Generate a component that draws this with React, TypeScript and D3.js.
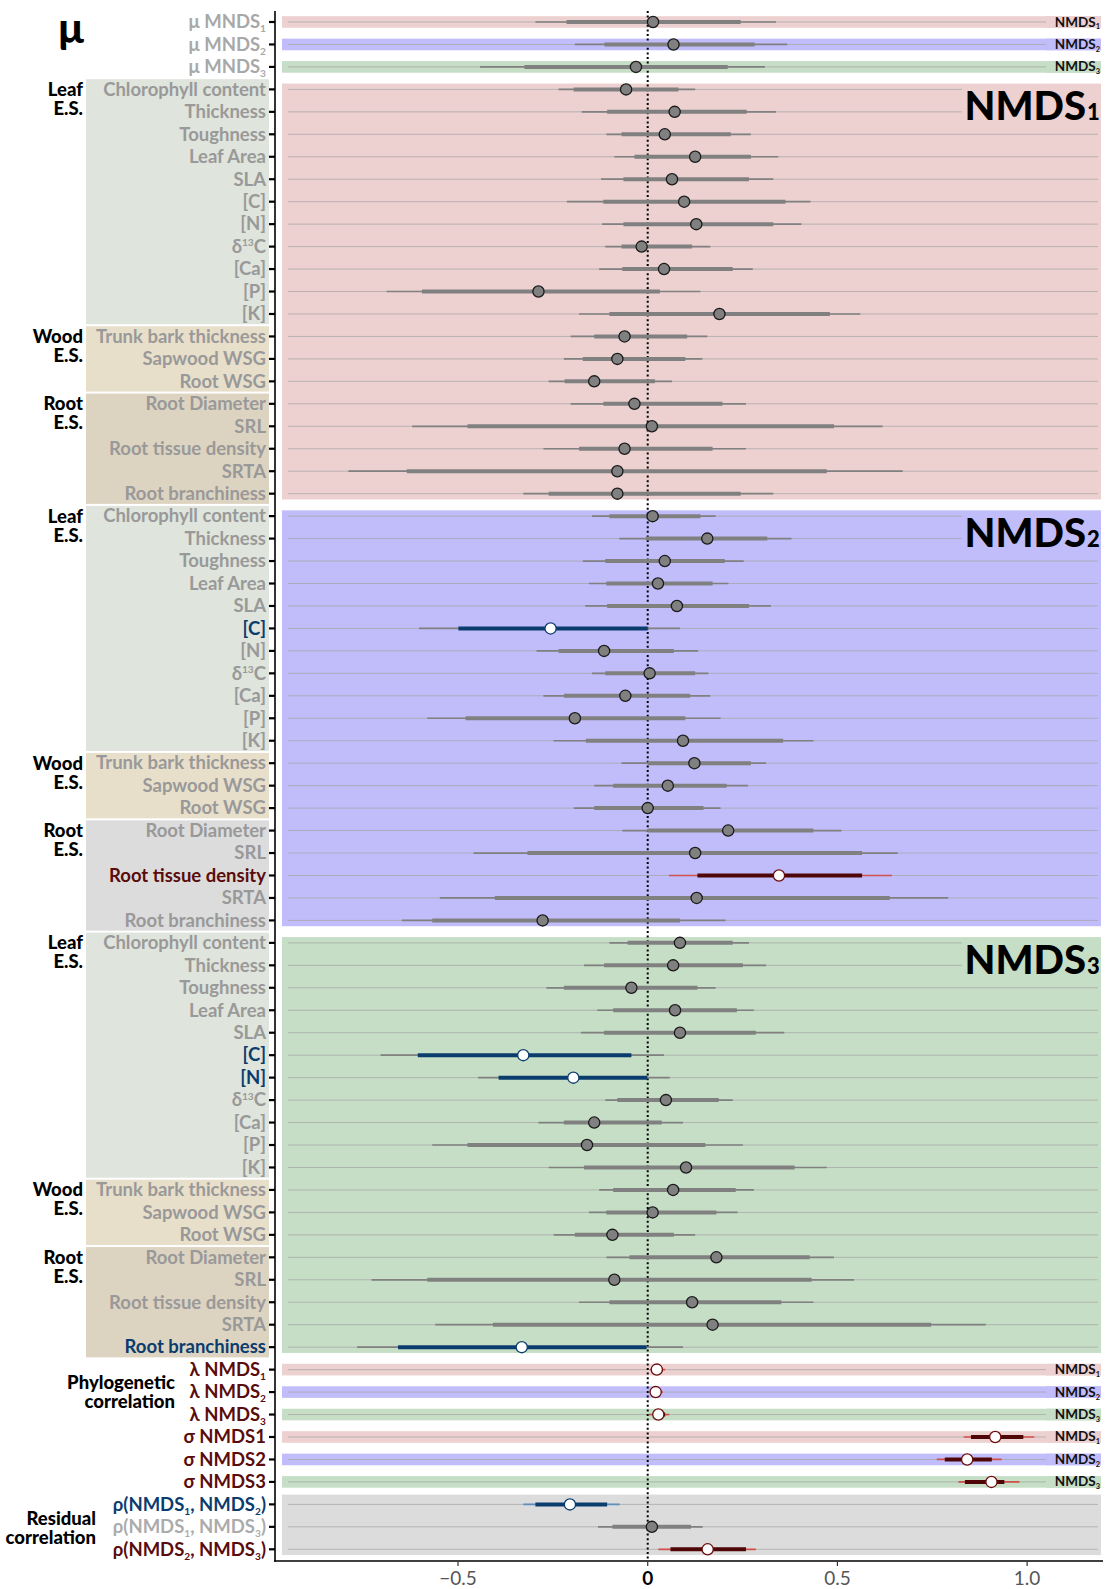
import React, { useEffect } from 'react';
import * as d3 from 'd3';

const width = 1105;
const height = 1589;

// trait rows (same order in each NMDS block)
const traits = ['Chlorophyll content', 'Thickness', 'Toughness', 'Leaf Area', 'SLA', '[C]', '[N]', 'δ^{13}C', '[Ca]', '[P]', '[K]',
  'Trunk bark thickness', 'Sapwood WSG', 'Root WSG',
  'Root Diameter', 'SRL', 'Root tissue density', 'SRTA', 'Root branchiness'];
const traitGroups: [string, number][] = [['Leaf', 11], ['Wood', 3], ['Root', 5]];

// [outer lo, inner lo, median, inner hi, outer hi]
const muLabels = ['μ MNDS_1', 'μ MNDS_2', 'μ MNDS_3'];
const mu = [
  [-0.296, -0.214, 0.014, 0.245, 0.338],
  [-0.192, -0.114, 0.068, 0.282, 0.368],
  [-0.442, -0.325, -0.031, 0.211, 0.309],
];
const nmds1 = [
  [-0.235, -0.195, -0.057, 0.081, 0.125],
  [-0.174, -0.107, 0.071, 0.261, 0.338],
  [-0.109, -0.069, 0.045, 0.219, 0.272],
  [-0.088, -0.035, 0.125, 0.272, 0.344],
  [-0.123, -0.064, 0.064, 0.267, 0.331],
  [-0.213, -0.117, 0.096, 0.363, 0.429],
  [-0.12, -0.064, 0.128, 0.331, 0.405],
  [-0.112, -0.069, -0.016, 0.117, 0.165],
  [-0.128, -0.067, 0.043, 0.224, 0.277],
  [-0.688, -0.595, -0.288, 0.032, 0.139],
  [-0.181, -0.101, 0.189, 0.48, 0.56],
  [-0.203, -0.141, -0.061, 0.104, 0.157],
  [-0.221, -0.171, -0.08, 0.099, 0.144],
  [-0.261, -0.219, -0.141, 0.019, 0.064],
  [-0.203, -0.117, -0.035, 0.197, 0.259],
  [-0.621, -0.475, 0.011, 0.491, 0.619],
  [-0.275, -0.181, -0.061, 0.171, 0.259],
  [-0.789, -0.635, -0.08, 0.472, 0.672],
  [-0.328, -0.261, -0.08, 0.245, 0.331],
];
const nmds2 = [
  [-0.147, -0.101, 0.013, 0.139, 0.179],
  [-0.075, -0.005, 0.157, 0.315, 0.379],
  [-0.171, -0.112, 0.045, 0.203, 0.253],
  [-0.155, -0.109, 0.027, 0.171, 0.213],
  [-0.165, -0.107, 0.077, 0.267, 0.325],
  [-0.603, -0.499, -0.256, 0.0, 0.085],
  [-0.293, -0.235, -0.115, 0.069, 0.133],
  [-0.147, -0.112, 0.005, 0.125, 0.16],
  [-0.275, -0.221, -0.059, 0.112, 0.165],
  [-0.581, -0.48, -0.192, 0.099, 0.192],
  [-0.248, -0.163, 0.093, 0.357, 0.437],
  [-0.069, 0.0, 0.123, 0.272, 0.312],
  [-0.141, -0.091, 0.053, 0.208, 0.264],
  [-0.195, -0.141, 0.0, 0.147, 0.192],
  [-0.067, 0.0, 0.212, 0.437, 0.511],
  [-0.459, -0.317, 0.125, 0.565, 0.659],
  [0.056, 0.131, 0.346, 0.565, 0.644],
  [-0.548, -0.403, 0.129, 0.638, 0.792],
  [-0.648, -0.568, -0.277, 0.085, 0.205],
];
const nmds3 = [
  [-0.101, -0.053, 0.085, 0.224, 0.267],
  [-0.168, -0.115, 0.067, 0.251, 0.312],
  [-0.267, -0.221, -0.043, 0.131, 0.179],
  [-0.133, -0.091, 0.072, 0.235, 0.28],
  [-0.176, -0.115, 0.085, 0.285, 0.36],
  [-0.704, -0.606, -0.328, -0.043, 0.043],
  [-0.447, -0.393, -0.196, -0.001, 0.058],
  [-0.112, -0.08, 0.048, 0.187, 0.224],
  [-0.288, -0.221, -0.141, 0.037, 0.093],
  [-0.568, -0.475, -0.16, 0.152, 0.251],
  [-0.261, -0.168, 0.101, 0.387, 0.472],
  [-0.128, -0.091, 0.067, 0.232, 0.28],
  [-0.155, -0.109, 0.013, 0.181, 0.237],
  [-0.248, -0.192, -0.093, 0.069, 0.125],
  [-0.109, -0.048, 0.181, 0.427, 0.491],
  [-0.728, -0.581, -0.088, 0.432, 0.544],
  [-0.181, -0.101, 0.117, 0.352, 0.437],
  [-0.56, -0.408, 0.171, 0.747, 0.891],
  [-0.766, -0.658, -0.332, -0.003, 0.093],
];
const lambdaLabels = ['λ NMDS_1', 'λ NMDS_2', 'λ NMDS_3'];
const lambda = [
  [0.006, 0.011, 0.024, 0.04, 0.046],
  [0.007, 0.01, 0.021, 0.035, 0.04],
  [0.003, 0.014, 0.028, 0.046, 0.057],
];
const sigmaLabels = ['σ NMDS1', 'σ NMDS2', 'σ NMDS3'];
const sigma = [
  [0.833, 0.852, 0.916, 0.99, 1.019],
  [0.762, 0.783, 0.842, 0.907, 0.933],
  [0.819, 0.836, 0.906, 0.94, 0.98],
];
const rhoLabels = ['ρ(NMDS_1, NMDS_2)', 'ρ(NMDS_1, NMDS_3)', 'ρ(NMDS_2, NMDS_3)'];
const rho = [
  [-0.328, -0.296, -0.205, -0.107, -0.074],
  [-0.131, -0.093, 0.011, 0.114, 0.145],
  [0.028, 0.06, 0.158, 0.259, 0.285],
];
const nmds2Blue = ['[C]'];
const nmds2Red = ['Root tissue density'];
const nmds3Blue = ['[C]', '[N]', 'Root branchiness'];
const xTicks = [-0.5, 0, 0.5, 1.0];

const bandColors = ['#edd0d0', '#c1bdfa', '#c6dec6'];
const bandGrey = '#dcdcdc';
const groupBg: Record<string, string> = { Leaf: '#dfe4dc', Wood: '#e8dfcb', Root: '#ddd3c1' };
const navy = '#0b3c6e';
const darkRed = '#4f0606';
const labelRed = '#5a0c0c';
const font = 'Lato, "Open Sans", sans-serif';

type Row = { label: string; v: number[]; style: string; color: string };

const rows: Row[] = [];
muLabels.forEach((l, i) => rows.push({ label: l, v: mu[i], style: 'grey', color: '#a8a8a8' }));
[nmds1, nmds2, nmds3].forEach((block, b) => {
  block.forEach((v, i) => {
    const t = traits[i];
    let style = 'grey';
    if ((b === 1 && nmds2Blue.includes(t)) || (b === 2 && nmds3Blue.includes(t))) style = 'blue';
    if (b === 1 && nmds2Red.includes(t)) style = 'red';
    const color = style === 'blue' ? navy : style === 'red' ? labelRed : '#999999';
    rows.push({ label: t, v, style, color });
  });
});
lambdaLabels.forEach((l, i) => rows.push({ label: l, v: lambda[i], style: 'red', color: labelRed }));
sigmaLabels.forEach((l, i) => rows.push({ label: l, v: sigma[i], style: 'red', color: labelRed }));
rows.push({ label: rhoLabels[0], v: rho[0], style: 'rhoBlue', color: navy });
rows.push({ label: rhoLabels[1], v: rho[1], style: 'grey', color: '#ababab' });
rows.push({ label: rhoLabels[2], v: rho[2], style: 'red', color: labelRed });

const x = d3.scaleLinear().domain([-0.985, 1.2]).range([274, 1103]);
const y = d3.scalePoint<number>().domain(d3.range(rows.length)).range([22, 1549.3]);
const step = y.step();
const yy = (i: number) => y(i) as number;

const panelTop = 11;
const panelBottom = 1561;
const axisX = 275;
const bandL = 282;
const bandR = 1101;
const half = 5.8;

// tiny markup: _1 subscript, ^{13} superscript
function Rich({ s, size }: { s: string; size: number }) {
  const parts = s.split(/(_\d|\^\{\d+\})/).filter(p => p !== '');
  const out: React.ReactNode[] = [];
  let shift = 0;
  parts.forEach((p, i) => {
    if (p.startsWith('_')) {
      out.push(<tspan key={i} fontSize={size * 0.55} dy={size * 0.22 - shift}>{p.slice(1)}</tspan>);
      shift = size * 0.22;
    } else if (p.startsWith('^')) {
      out.push(<tspan key={i} fontSize={size * 0.55} dy={-size * 0.36 - shift}>{p.slice(2, -1)}</tspan>);
      shift = -size * 0.36;
    } else {
      out.push(<tspan key={i} dy={-shift}>{p}</tspan>);
      shift = 0;
    }
  });
  return <>{out}</>;
}

function Interval({ r, i }: { r: Row; i: number }) {
  const cy = yy(i);
  const [ol, il, m, ih, oh] = r.v;
  let outer = '#808080', inner = '#808080', fill = '#808080', stroke = '#1a1a1a';
  if (r.style === 'blue') { inner = navy; fill = '#ffffff'; stroke = navy; }
  if (r.style === 'rhoBlue') { outer = '#5d8fbd'; inner = navy; fill = '#ffffff'; stroke = navy; }
  if (r.style === 'red') { outer = '#d2504c'; inner = darkRed; fill = '#ffffff'; stroke = '#6b0d0d'; }
  return (
    <g>
      <line x1={x(ol)} x2={x(oh)} y1={cy} y2={cy} stroke={outer} strokeWidth={1.7} />
      <line x1={x(il)} x2={x(ih)} y1={cy} y2={cy} stroke={inner} strokeWidth={4} />
      <circle cx={x(m)} cy={cy} r={5.6} fill={fill} stroke={stroke} strokeWidth={1.3} />
    </g>
  );
}

function SmallTag({ i, k, color }: { i: number; k: number; color: string }) {
  const cy = yy(i);
  return (
    <g>
      <rect x={1046} y={cy - half} width={bandR - 1046} height={half * 2} fill={color} />
      <text x={1100} y={cy + 4.5} textAnchor="end" fontFamily={font} fontWeight={700} fontSize={13.5} fill="#111">
        <Rich s={`NMDS_${k}`} size={13.5} />
      </text>
    </g>
  );
}

export default function App() {
  useEffect(() => {
    document.body.style.margin = '0';
    document.body.style.overflow = 'hidden';
  }, []);
  const blocks = [3, 22, 41];
  const tagged = [0, 1, 2, 60, 61, 62, 63, 64, 65];
  return (
    <svg width={width} height={height} style={{ display: 'block', position: 'absolute', left: 0, top: 0 }}>
      <rect width={width} height={height} fill="#fff" />
      {/* left group backgrounds */}
      {blocks.map((start, b) => {
        let idx = start;
        return traitGroups.map(([g, n]) => {
          const top = yy(idx) - step / 2 + 1;
          const bot = yy(idx + n - 1) + step / 2 - 1;
          const fillC = b === 1 && g === 'Root' ? bandGrey : groupBg[g];
          const el = (
            <g key={`${b}-${g}`}>
              <rect x={86} y={top} width={183} height={bot - top} fill={fillC} />
              <text x={83} y={yy(idx) + 6.5} textAnchor="end" fontFamily={font} fontWeight={900} fontSize={18.5} fill="#000">{g}</text>
              <text x={83} y={yy(idx) + 25.5} textAnchor="end" fontFamily={font} fontWeight={900} fontSize={18.5} fill="#000">E.S.</text>
            </g>
          );
          idx += n;
          return el;
        });
      })}
      {/* panel bands */}
      {[0, 1, 2].map(k => (
        <rect key={`mu${k}`} x={bandL} y={yy(k) - half} width={bandR - bandL} height={half * 2} fill={bandColors[k]} />
      ))}
      {blocks.map((start, k) => (
        <rect key={`blk${k}`} x={bandL} y={yy(start) - half} width={bandR - bandL} height={yy(start + 18) - yy(start) + half * 2} fill={bandColors[k]} />
      ))}
      {[60, 61, 62, 63, 64, 65].map((r, k) => (
        <rect key={`ls${k}`} x={bandL} y={yy(r) - half} width={bandR - bandL} height={half * 2} fill={bandColors[k % 3]} />
      ))}
      <rect x={bandL} y={yy(66) - half - 4} width={bandR - bandL} height={yy(68) - yy(66) + half * 2 + 4} fill={bandGrey} />
      {/* row lines */}
      {rows.map((r, i) => (
        <line key={`rl${i}`} x1={288} x2={1098} y1={yy(i)} y2={yy(i)} stroke="#a3a3a3" strokeWidth={0.7} />
      ))}
      {/* big section labels */}
      {blocks.map((start, k) => (
        <g key={`big${k}`}>
          <rect x={962} y={yy(start) - 4} width={bandR - 962} height={yy(start + 1) - yy(start) + 16} fill={bandColors[k]} />
          <text x={1086} y={yy(start + 1) + 8.5} textAnchor="end" fontFamily={font} fontWeight={900} fontSize={40} fill="#000">NMDS</text>
          <text x={1087} y={yy(start + 1) + 8.5} textAnchor="start" fontFamily={font} fontWeight={900} fontSize={22} fill="#000">{k + 1}</text>
        </g>
      ))}
      {tagged.map((r, k) => (
        <SmallTag key={`tag${k}`} i={r} k={(k % 3) + 1} color={bandColors[k % 3]} />
      ))}
      {/* zero line */}
      <line x1={x(0)} x2={x(0)} y1={panelTop} y2={panelBottom} stroke="#000" strokeWidth={2} strokeDasharray="2 2.6" />
      {rows.map((r, i) => <Interval key={`iv${i}`} r={r} i={i} />)}
      {/* axes */}
      <line x1={axisX} x2={axisX} y1={panelTop} y2={panelBottom + 0.75} stroke="#000" strokeWidth={1.6} />
      <line x1={axisX - 0.8} x2={1103} y1={panelBottom} y2={panelBottom} stroke="#000" strokeWidth={1.6} />
      {rows.map((r, i) => (
        <g key={`yl${i}`}>
          <line x1={269} x2={axisX} y1={yy(i)} y2={yy(i)} stroke="#000" strokeWidth={2.2} />
          <text x={266} y={yy(i) + 6.3} textAnchor="end" fontFamily={font} fontWeight={700} fontSize={18.5} fill={r.color}>
            <Rich s={r.label} size={18.5} />
          </text>
        </g>
      ))}
      {xTicks.map(t => (
        <g key={`xt${t}`}>
          <line x1={x(t)} x2={x(t)} y1={panelBottom} y2={panelBottom + 5} stroke="#333" strokeWidth={1.2} />
          <text x={x(t)} y={1585} textAnchor="middle" fontFamily={font} fontWeight={t === 0 ? 700 : 400}
            fontSize={19} fill={t === 0 ? '#000' : '#555'}>
            {t === 0 ? '0' : d3.format('.1f')(t).replace('-', '−')}
          </text>
        </g>
      ))}
      {/* left titles */}
      <text x={71} y={43} textAnchor="middle" fontFamily={font} fontWeight={900} fontSize={42} fill="#000">μ</text>
      <text x={175} y={yy(61) - 3} textAnchor="end" fontFamily={font} fontWeight={900} fontSize={18.5} fill="#000">Phylogenetic</text>
      <text x={175} y={yy(61) + 16} textAnchor="end" fontFamily={font} fontWeight={900} fontSize={18.5} fill="#000">correlation</text>
      <text x={96} y={yy(67) - 2} textAnchor="end" fontFamily={font} fontWeight={900} fontSize={18.5} fill="#000">Residual</text>
      <text x={96} y={yy(67) + 17} textAnchor="end" fontFamily={font} fontWeight={900} fontSize={18.5} fill="#000">correlation</text>
    </svg>
  );
}
